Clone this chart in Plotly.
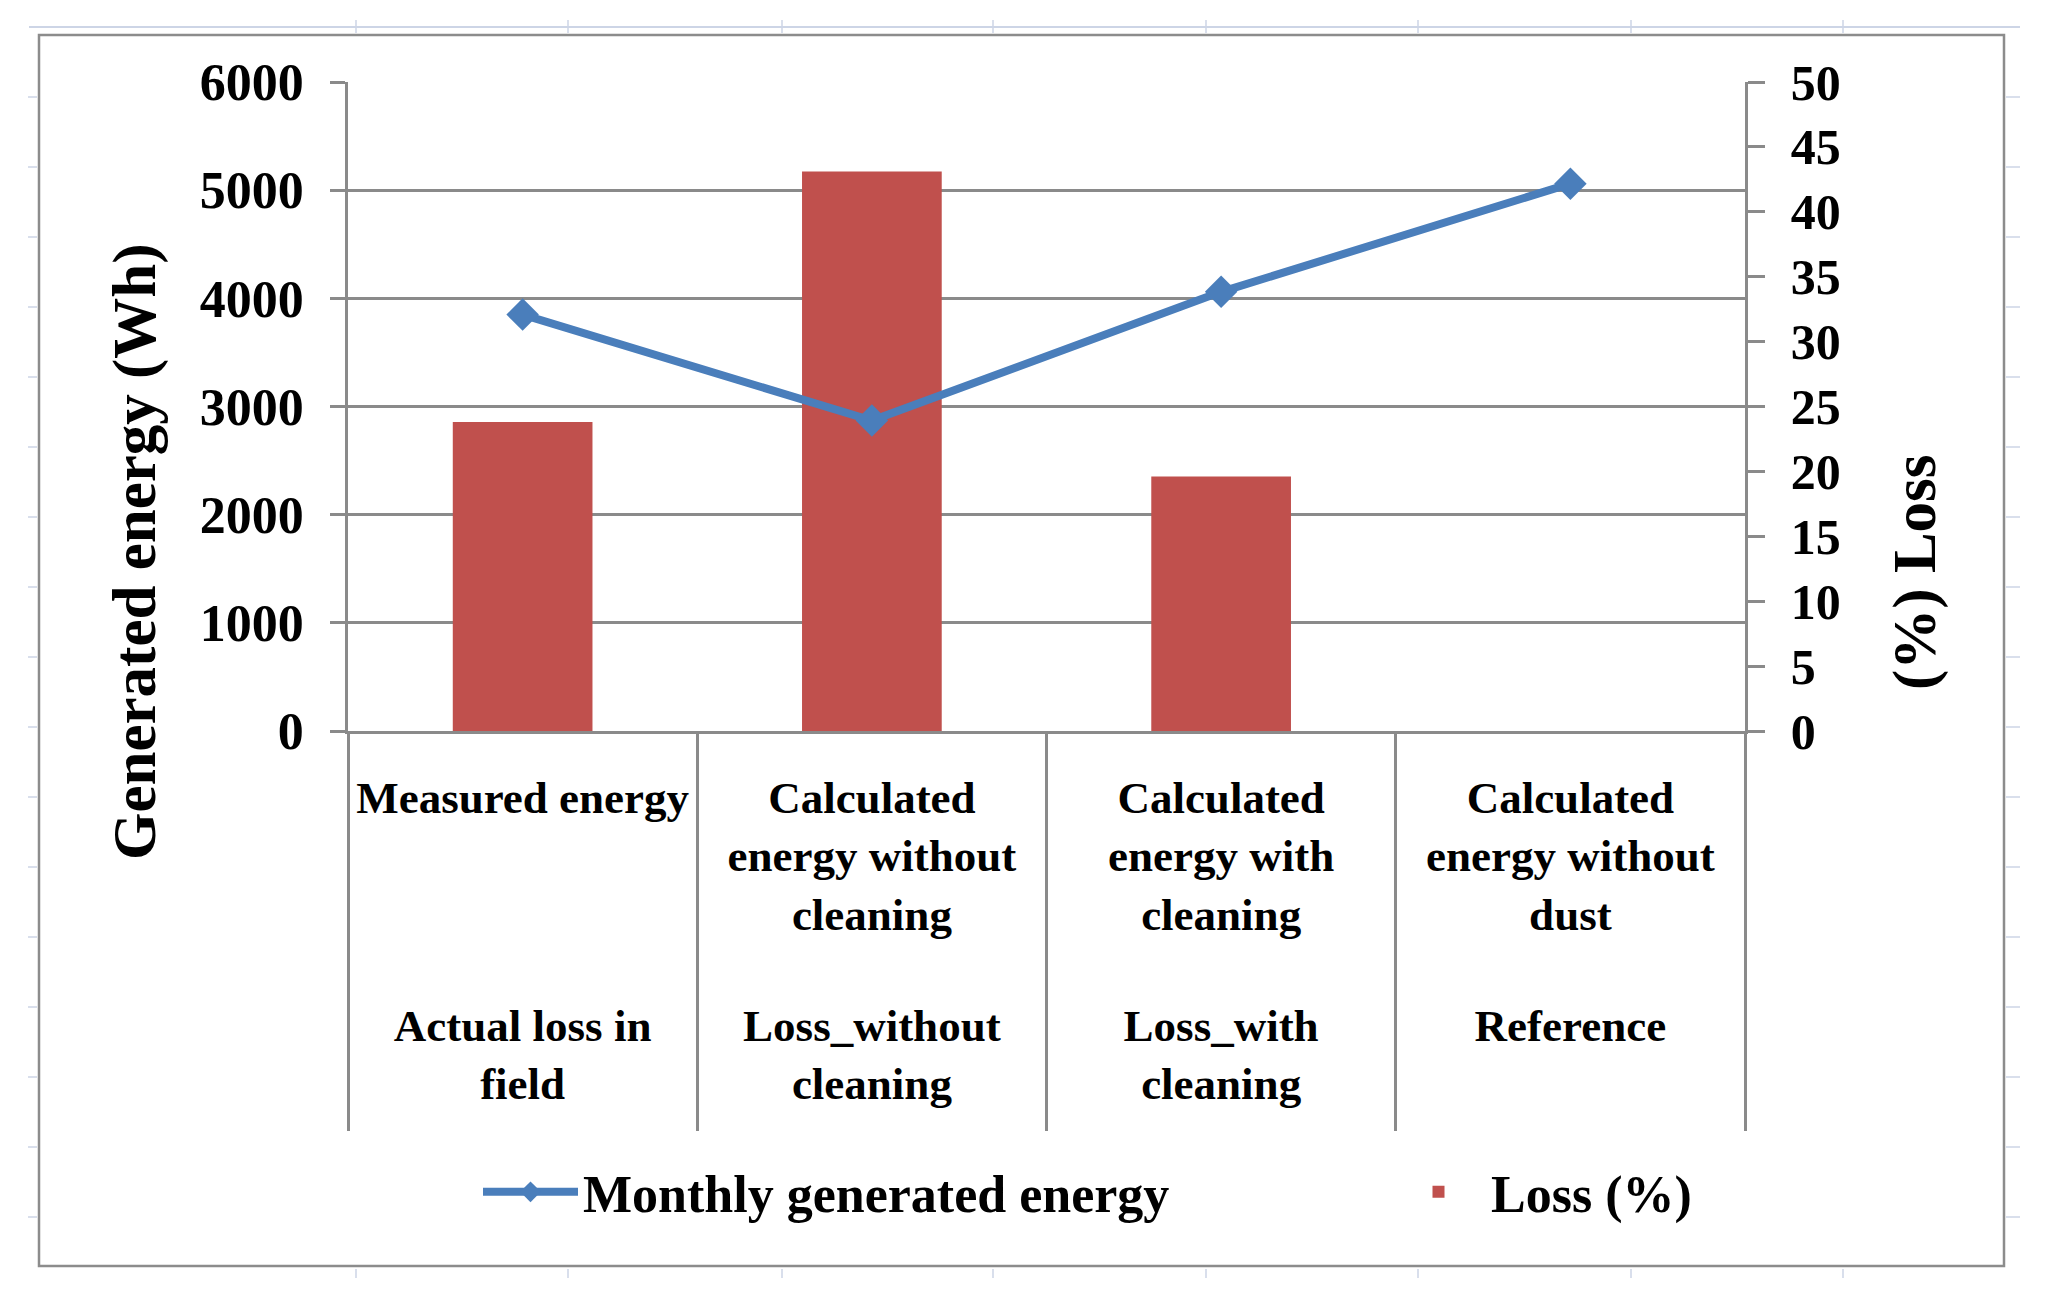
import plotly.graph_objects as go

# ---- data ----
categories = ["Measured energy",
              "Calculated<br>energy without<br>cleaning",
              "Calculated<br>energy with<br>cleaning",
              "Calculated<br>energy without<br>dust"]
groups = ["Actual loss in<br>field",
          "Loss_without<br>cleaning",
          "Loss_with<br>cleaning",
          "Reference"]
energy_wh = [3850, 2870, 4060, 5060]
loss_pct = [23.8, 43.1, 19.6, 0]
energy_ticks = [0, 1000, 2000, 3000, 4000, 5000, 6000]
loss_ticks = [0, 5, 10, 15, 20, 25, 30, 35, 40, 45, 50]

# ---- layout geometry (pixels in the reference picture) ----
OFF = 8                      # page body margin
W, H = 2049 - OFF, 1302 - OFF
L, R, T, B = 348 - OFF, 1745 - OFF, 82 - OFF, 731 - OFF
PW, PH = R - L, B - T


def px_x(p):
    return (p - OFF - L) / PW


def px_y(p):
    return (B - (p - OFF)) / PH


GRID = "#8a8a8a"
BLUE = "#4a7ebb"
RED = "#c0504d"
FONT = "Liberation Serif"

# spacing helpers: invisible blanks under each label level, so that the lower
# label level and the category dividers reach as far down as in the reference
SP_IN = "<span style='font-size:121px'>\u00a0</span>"
SP_OUT = "<span style='font-size:138px'>\u00a0</span>"
x_inner = [c + "<br>" + SP_IN for c in categories]
x_outer = []
for g in groups:
    lines = g.split("<br>")
    lines[-1] = SP_OUT + lines[-1] + SP_OUT
    x_outer.append("<br>".join(lines))

fig = go.Figure()

fig.add_trace(go.Scatter(
    x=[x_outer, x_inner], y=energy_wh, name="Monthly generated energy",
    yaxis="y2", mode="lines+markers", legend="legend",
    line=dict(color=BLUE, width=8),
    marker=dict(symbol="diamond", size=25, color=BLUE),
))
fig.add_trace(go.Bar(
    x=[x_outer, x_inner], y=loss_pct, name="Loss (%)",
    yaxis="y", legend="legend2",
    marker=dict(color=RED, line=dict(width=0)),
))

shapes = []
# outer chart border
shapes.append(dict(type="rect", xref="paper", yref="paper",
                   x0=px_x(39), x1=px_x(2004), y0=px_y(1266), y1=px_y(35),
                   line=dict(color="#8c8c8c", width=2.5), layer="below"))
# faint spreadsheet cell lines around the chart
SHEET = "#cdd5e6"
shapes.append(dict(type="line", xref="paper", yref="paper",
                   x0=px_x(29), x1=px_x(2020), y0=px_y(27), y1=px_y(27),
                   line=dict(color=SHEET, width=2), layer="below"))
for cx in [356, 568, 782, 993, 1206, 1418, 1631, 1843]:
    shapes.append(dict(type="line", xref="paper", yref="paper",
                       x0=px_x(cx), x1=px_x(cx), y0=px_y(20), y1=px_y(33),
                       line=dict(color=SHEET, width=1.5), layer="below"))
    shapes.append(dict(type="line", xref="paper", yref="paper",
                       x0=px_x(cx), x1=px_x(cx), y0=px_y(1269), y1=px_y(1278),
                       line=dict(color=SHEET, width=1.5), layer="below"))
for ry in range(97, 1260, 70):
    shapes.append(dict(type="line", xref="paper", yref="paper",
                       x0=px_x(28), x1=px_x(37), y0=px_y(ry), y1=px_y(ry),
                       line=dict(color=SHEET, width=1.5), layer="below"))
    shapes.append(dict(type="line", xref="paper", yref="paper",
                       x0=px_x(2006), x1=px_x(2020), y0=px_y(ry), y1=px_y(ry),
                       line=dict(color=SHEET, width=1.5), layer="below"))

annotations = [
    dict(text="Generated energy (Wh)", textangle=-90, xref="paper", yref="paper",
         x=px_x(135), y=px_y(552), xanchor="center", yanchor="middle",
         showarrow=False, font=dict(family=FONT, size=61, color="black", weight="bold")),
    dict(text="(%) Loss", textangle=-90, xref="paper", yref="paper",
         x=px_x(1915), y=px_y(572), xanchor="center", yanchor="middle",
         showarrow=False, font=dict(family=FONT, size=61, color="black", weight="bold")),
]

legend_font = dict(family=FONT, size=52, color="black", weight="bold")

fig.update_layout(
    width=W, height=H,
    margin=dict(l=L, r=W - R, t=T, b=H - B, autoexpand=False),
    paper_bgcolor="white", plot_bgcolor="white",
    font=dict(family=FONT, color="black", weight="bold"),
    bargap=0.6,
    showlegend=True,
    legend=dict(orientation="h", x=px_x(478), y=px_y(1192),
                xanchor="left", yanchor="middle", font=legend_font,
                itemwidth=95, bgcolor="rgba(0,0,0,0)"),
    legend2=dict(orientation="h", x=px_x(1386), y=px_y(1192),
                 xanchor="left", yanchor="middle", font=legend_font,
                 itemwidth=95, bgcolor="rgba(0,0,0,0)"),
    xaxis=dict(type="multicategory", showline=True, linecolor=GRID, linewidth=2.5,
               ticks="", showgrid=False, showdividers=True,
               dividercolor=GRID, dividerwidth=2.5,
               tickfont=dict(family=FONT, size=45, color="black", weight="bold"),
               ticklabelstandoff=25),
    yaxis=dict(side="right", range=[0, 50], tickvals=loss_ticks,
               showgrid=False, zeroline=False, showline=True,
               linecolor=GRID, linewidth=2.5, ticks="outside", ticklen=17,
               tickcolor=GRID, tickwidth=2.5, ticklabelstandoff=16,
               tickfont=dict(family=FONT, size=50, color="black", weight="bold")),
    yaxis2=dict(side="left", overlaying="y", range=[0, 6000], tickvals=energy_ticks,
                showgrid=True, gridcolor=GRID, gridwidth=2.5, zeroline=False,
                showline=True, linecolor=GRID, linewidth=2.5, ticks="outside",
                ticklen=15, tickcolor=GRID, tickwidth=2.5, ticklabelstandoff=16,
                tickfont=dict(family=FONT, size=52, color="black", weight="bold")),
    shapes=shapes,
    annotations=annotations,
)

fig.write_html("out.html")
